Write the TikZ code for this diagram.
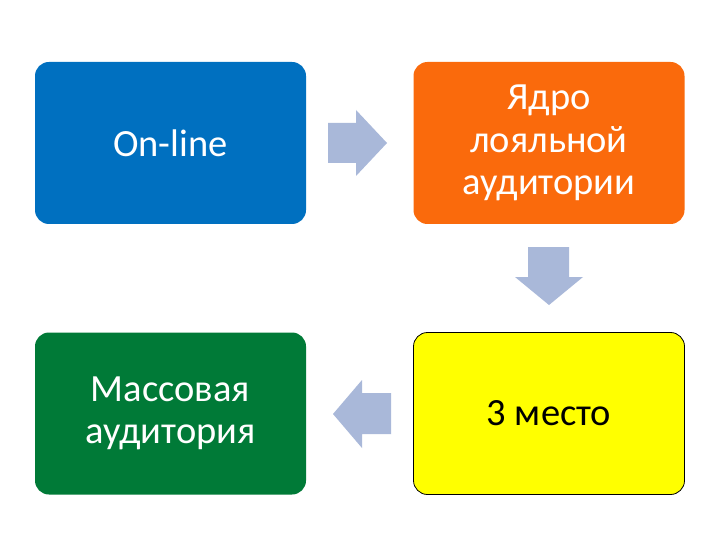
\documentclass[tikz,border=0pt]{standalone}
\usepackage{fontspec}
\setmainfont{Carlito}
\definecolor{boxblue}{HTML}{0070C0}
\definecolor{boxorange}{HTML}{FA6A0C}
\definecolor{boxgreen}{HTML}{007A37}
\definecolor{boxyellow}{HTML}{FFFF00}
\definecolor{arrowfill}{HTML}{A9B8D9}
\begin{document}
\begin{tikzpicture}[x=1pt,y=-1pt,
  card/.style={rounded corners=14pt, minimum width=271pt, minimum height=162pt, inner sep=0pt,
    align=center, font=\fontsize{38.5}{42.5}\selectfont, text=white},
  flow/.style={fill=arrowfill, draw=none}]
\useasboundingbox (0,0) rectangle (720,540);
\fill[white] (0,0) rectangle (720,540);
\node[card, fill=boxblue] (a) at (170.5,143) {On-line};
\node[card, fill=boxorange] (b) at (549,143) {Ядро\\лояльной\\аудитории};
\node[card, fill=boxyellow, draw=black, line width=0.8pt, text=black] (c) at (549,413.5) {3 место};
\node[card, fill=boxgreen] (d) at (170.5,413.5) {Массовая\\аудитория};
% right arrow a -> b
\fill[flow] (328,123) -- (356,123) -- (356,110) -- (387,143) -- (356,176) -- (356,163) -- (328,163) -- cycle;
% down arrow b -> c
\fill[flow] (528,247) -- (569,247) -- (569,277) -- (583,277) -- (549,305) -- (515,277) -- (528,277) -- cycle;
% left arrow c -> d
\fill[flow] (391,393) -- (362,393) -- (362,380) -- (333,414) -- (362,448) -- (362,434) -- (391,434) -- cycle;
\end{tikzpicture}
\end{document}
